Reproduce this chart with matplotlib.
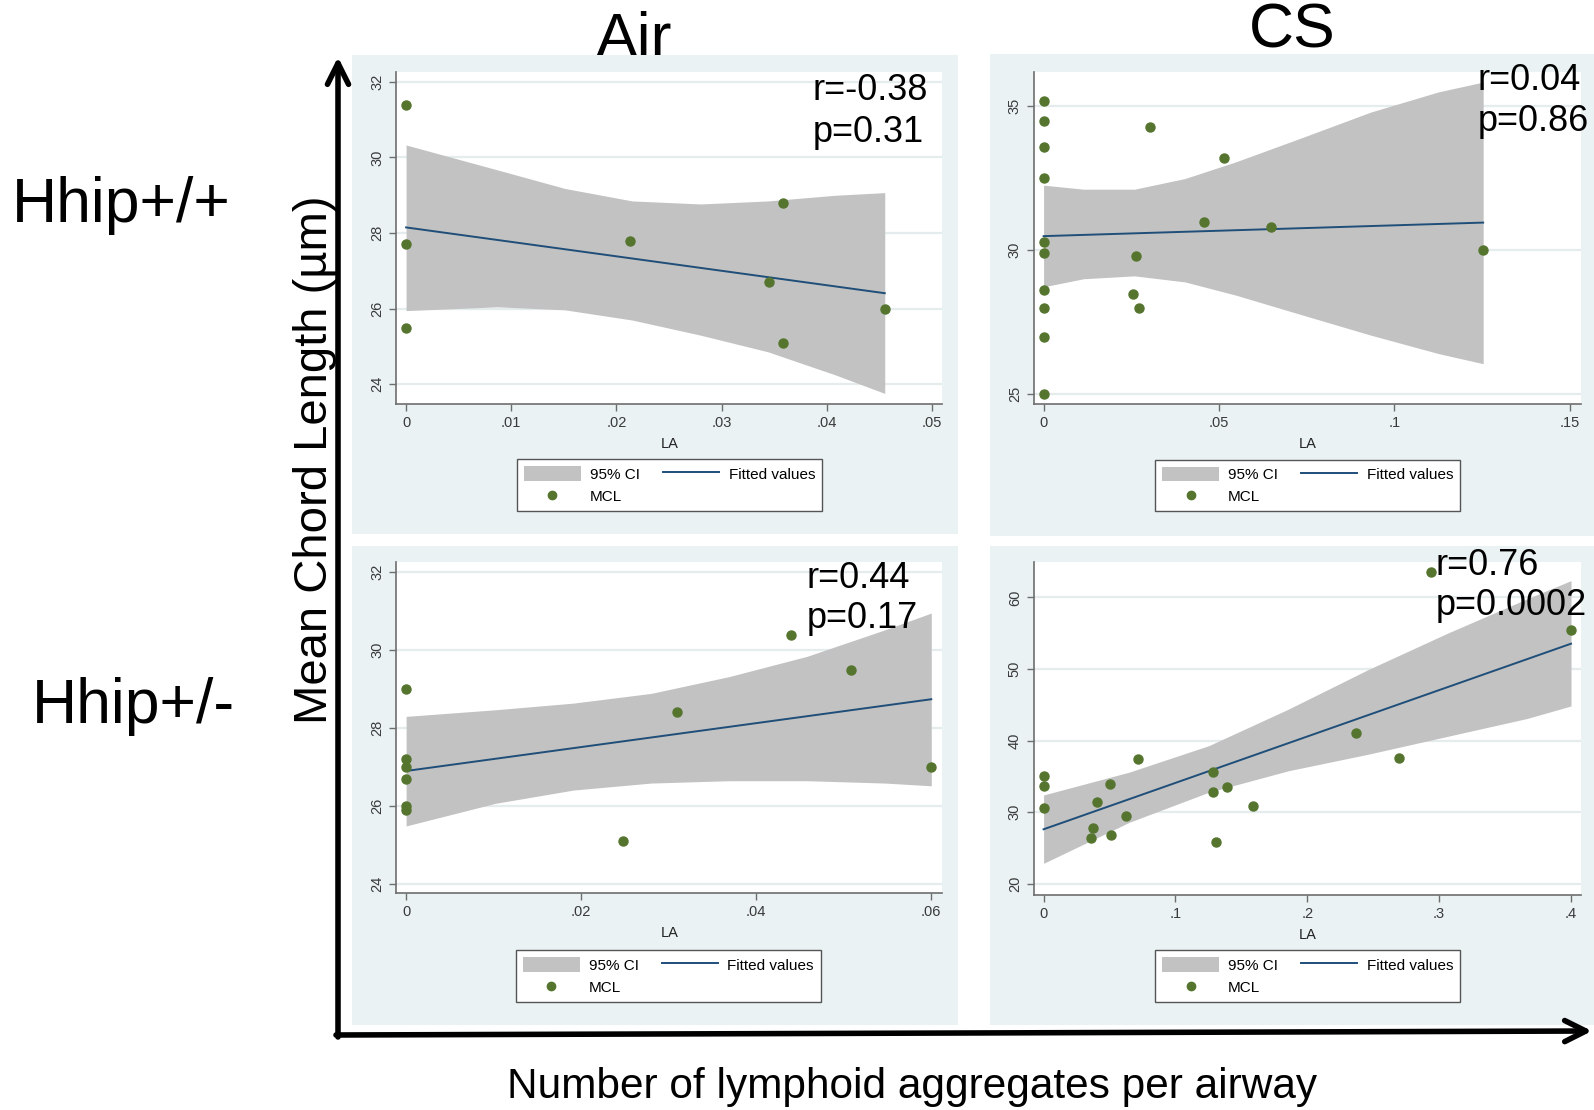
import matplotlib
matplotlib.use("Agg")
import matplotlib.pyplot as plt
from matplotlib.patches import Patch
from matplotlib.lines import Line2D

plt.rcParams['font.family'] = ['Liberation Sans', 'DejaVu Sans']

W, H = 1594, 1110

# ---- values ----
# Air, Hhip+/+
la_air_wt = [0, 0, 0, 0.0213, 0.0358, 0.0345, 0.0358, 0.0455]
mcl_air_wt = [31.38, 27.70, 25.50, 27.80, 28.79, 26.70, 25.10, 26.00]
fit_x_air_wt = [0, 0.0455]
fit_air_wt = [28.15, 26.41]
ci_x_air_wt = [0, 0.0087, 0.0151, 0.0215, 0.0280, 0.0344, 0.0408, 0.0455]
ci_hi_air_wt = [30.33, 29.67, 29.18, 28.85, 28.77, 28.85, 29.00, 29.07]
ci_lo_air_wt = [25.95, 26.05, 25.97, 25.70, 25.30, 24.86, 24.25, 23.76]

# CS, Hhip+/+
la_cs_wt = [0, 0, 0, 0, 0, 0, 0, 0, 0, 0,
            0.0304, 0.0515, 0.0456, 0.0647, 0.0264, 0.0256, 0.0272, 0.1253]
mcl_cs_wt = [35.19, 34.48, 33.59, 32.49, 30.29, 29.88, 28.60, 28.00, 26.99, 25.00,
             34.28, 33.18, 30.98, 30.80, 29.79, 28.48, 28.00, 30.00]
fit_x_cs_wt = [0, 0.1253]
fit_cs_wt = [30.48, 30.95]
ci_x_cs_wt = [0, 0.0114, 0.0259, 0.0403, 0.0548, 0.0741, 0.0933, 0.1126, 0.1253]
ci_hi_cs_wt = [32.25, 32.11, 32.11, 32.48, 33.06, 33.92, 34.79, 35.49, 35.83]
ci_lo_cs_wt = [28.72, 29.00, 29.10, 28.89, 28.43, 27.73, 27.04, 26.40, 26.05]

# Air, Hhip+/-
la_air_het = [0, 0, 0, 0, 0, 0, 0.0248, 0.0310, 0.0440, 0.0508, 0.0600]
mcl_air_het = [29.00, 27.20, 27.00, 26.70, 26.00, 25.90, 25.10, 28.40, 30.40, 29.50, 27.00]
fit_x_air_het = [0, 0.0600]
fit_air_het = [26.90, 28.74]
ci_x_air_het = [0, 0.0102, 0.0191, 0.0280, 0.0369, 0.0458, 0.0547, 0.0600]
ci_hi_air_het = [28.30, 28.47, 28.64, 28.89, 29.32, 29.84, 30.52, 30.95]
ci_lo_air_het = [25.49, 26.07, 26.41, 26.59, 26.65, 26.65, 26.59, 26.52]

# CS, Hhip+/-
la_cs_het = [0, 0, 0, 0.0362, 0.0374, 0.0402, 0.0501, 0.0513, 0.0628, 0.0715,
             0.1286, 0.1286, 0.1392, 0.1307, 0.1591, 0.2367, 0.2693, 0.2940, 0.4000]
mcl_cs_het = [35.12, 33.67, 30.60, 26.42, 27.86, 31.49, 33.91, 26.88, 29.44, 37.49,
              35.58, 32.79, 33.53, 25.81, 30.84, 41.12, 37.58, 63.49, 55.49]
fit_x_cs_het = [0, 0.4]
fit_cs_het = [27.63, 53.53]
ci_x_cs_het = [0, 0.0649, 0.1253, 0.1857, 0.2460, 0.3064, 0.3668, 0.4]
ci_hi_cs_het = [32.42, 35.6, 39.3, 44.4, 49.9, 55.0, 59.8, 62.33]
ci_lo_cs_het = [22.88, 28.6, 32.8, 35.8, 38.1, 40.6, 43.1, 44.84]

r_labels = ["r=-0.38", "r=0.04", "r=0.44", "r=0.76"]
p_labels = ["p=0.31", "p=0.86", "p=0.17", "p=0.0002"]

xticks_air_wt = [0, 0.01, 0.02, 0.03, 0.04, 0.05]
xticks_cs_wt = [0, 0.05, 0.1, 0.15]
xticks_air_het = [0, 0.02, 0.04, 0.06]
xticks_cs_het = [0, 0.1, 0.2, 0.3, 0.4]
yticks_air_wt = [24, 26, 28, 30, 32]
yticks_cs_wt = [25, 30, 35]
yticks_air_het = [24, 26, 28, 30, 32]
yticks_cs_het = [20, 30, 40, 50, 60]

# ---- colours (Stata s2color look) ----
panel_bg = '#EAF2F3'
grid_col = '#E4ECEE'
ci_col = '#C2C2C2'
fit_col = '#1F4E79'
dot_col = '#55752F'
axis_col = '#6E6E6E'


def box(x0, y0, x1, y1):
    return [x0 / W, 1 - y1 / H, (x1 - x0) / W, (y1 - y0) / H]


def fx(x):
    return x / W


def fy(y):
    return 1 - y / H


def tick_str(v):
    if v == 0:
        return '0'
    s = ('%g' % v)
    return s[1:] if s.startswith('0.') else s


fig = plt.figure(figsize=(W / 100, H / 100), dpi=100)

panels = [
    dict(bg=(351.7, 55, 957.6, 534), plot=(396.4, 72, 942.2, 404),
         xlim=(-0.00092, 0.05096), ylim=(23.48, 32.26),
         x=la_air_wt, y=mcl_air_wt, fx=fit_x_air_wt, fv=fit_air_wt,
         cx=ci_x_air_wt, chi=ci_hi_air_wt, clo=ci_lo_air_wt,
         xt=xticks_air_wt, yt=yticks_air_wt, leg=(669.6, 485),
         txt=(812.6, 100, 142)),
    dict(bg=(989.9, 54, 1594, 536), plot=(1033.7, 72, 1580.9, 404),
         xlim=(-0.00282, 0.15316), ylim=(24.65, 36.18),
         x=la_cs_wt, y=mcl_cs_wt, fx=fit_x_cs_wt, fv=fit_cs_wt,
         cx=ci_x_cs_wt, chi=ci_hi_cs_wt, clo=ci_lo_cs_wt,
         xt=xticks_cs_wt, yt=yticks_cs_wt, leg=(1307.7, 485.5),
         txt=(1478, 90, 131)),
    dict(bg=(351.7, 546, 957.6, 1025), plot=(396.4, 562, 942.2, 893),
         xlim=(-0.00111, 0.06125), ylim=(23.77, 32.26),
         x=la_air_het, y=mcl_air_het, fx=fit_x_air_het, fv=fit_air_het,
         cx=ci_x_air_het, chi=ci_hi_air_het, clo=ci_lo_air_het,
         xt=xticks_air_het, yt=yticks_air_het, leg=(668.5, 976),
         txt=(806.8, 588, 628)),
    dict(bg=(989.9, 546, 1594, 1025), plot=(1033.7, 562, 1580.9, 895),
         xlim=(-0.0075, 0.4075), ylim=(18.46, 64.93),
         x=la_cs_het, y=mcl_cs_het, fx=fit_x_cs_het, fv=fit_cs_het,
         cx=ci_x_cs_het, chi=ci_hi_cs_het, clo=ci_lo_cs_het,
         xt=xticks_cs_het, yt=yticks_cs_het, leg=(1307.7, 976),
         txt=(1436, 575, 615)),
]

for i, p in enumerate(panels):
    bg = fig.add_axes(box(*p['bg']), zorder=0)
    bg.set_facecolor(panel_bg)
    bg.set_xticks([])
    bg.set_yticks([])
    for s in bg.spines.values():
        s.set_visible(False)

    ax = fig.add_axes(box(*p['plot']), zorder=1)
    ax.set_facecolor('white')
    ax.fill_between(p['cx'], p['chi'], p['clo'], color=ci_col, lw=0, zorder=1)
    ax.plot(p['fx'], p['fv'], color=fit_col, lw=1.4, zorder=2)
    ax.plot(p['x'], p['y'], 'o', color=dot_col, ms=6.5, mec=dot_col, zorder=3,
            clip_on=False)
    ax.set_xlim(*p['xlim'])
    ax.set_ylim(*p['ylim'])
    ax.set_xticks(p['xt'])
    ax.set_xticklabels([tick_str(v) for v in p['xt']])
    ax.set_yticks(p['yt'])
    ax.set_yticklabels([str(v) for v in p['yt']], rotation=90, va='center')
    ax.yaxis.grid(True, color=grid_col, lw=1.6)
    ax.set_axisbelow(True)
    for side in ['top', 'right']:
        ax.spines[side].set_visible(False)
    for side in ['left', 'bottom']:
        ax.spines[side].set_color(axis_col)
        ax.spines[side].set_linewidth(1.2)
    ax.tick_params(colors=axis_col, labelcolor='#3A3A3A', labelsize=10.5,
                   length=5, width=1)
    ax.set_xlabel('LA', fontsize=10.5, color='#222222', labelpad=5)

    handles = [Patch(facecolor=ci_col, edgecolor='none'),
               Line2D([], [], ls='none', marker='o', color=dot_col, ms=6),
               Line2D([], [], color=fit_col, lw=1.4)]
    labels = ['95% CI', 'MCL', 'Fitted values']
    cx, cy = p['leg']
    leg = ax.legend(handles, labels, ncol=2, loc='center',
                    bbox_to_anchor=(fx(cx), fy(cy)), bbox_transform=fig.transFigure,
                    fontsize=11, frameon=True, fancybox=False, framealpha=1,
                    edgecolor='#555555', handlelength=3.7, handleheight=1.1,
                    handletextpad=0.6, columnspacing=1.5, labelspacing=0.45,
                    borderpad=0.45, borderaxespad=0)
    leg.get_frame().set_linewidth(1.0)

    tx, ry, py = p['txt']
    fig.text(fx(tx), fy(ry), r_labels[i], fontsize=26, va='baseline', ha='left',
             zorder=5)
    fig.text(fx(tx), fy(py), p_labels[i], fontsize=26, va='baseline', ha='left',
             zorder=5)

# column / row headings (drawn under the panels, as in the original)
fig.text(fx(634), fy(57), 'Air', fontsize=45, ha='center', va='baseline', zorder=-1)
fig.text(fx(1292), fy(48), 'CS', fontsize=45, ha='center', va='baseline', zorder=-1)
fig.text(fx(12), fy(222), 'Hhip+/+', fontsize=45, ha='left', va='baseline')
fig.text(fx(32), fy(723), 'Hhip+/-', fontsize=45, ha='left', va='baseline')

fig.text(fx(315), fy(460), 'Mean Chord Length (µm)', fontsize=34, rotation=90,
         ha='center', va='center')
fig.text(fx(912), fy(1098), 'Number of lymphoid aggregates per airway', fontsize=30.5,
         ha='center', va='baseline')

# big axis arrows
over = fig.add_axes([0, 0, 1, 1], zorder=10)
over.set_xlim(0, W)
over.set_ylim(H, 0)
over.axis('off')
over.patch.set_alpha(0)
arrow_kw = dict(arrowstyle='->,head_length=0.4,head_width=0.2', lw=4, color='black',
                mutation_scale=38, shrinkA=0, shrinkB=0)
over.annotate('', xy=(338, 57), xytext=(338, 1037), arrowprops=arrow_kw)
over.annotate('', xy=(1592, 1031), xytext=(336, 1035), arrowprops=arrow_kw)

fig.savefig('out.png', dpi=100)
